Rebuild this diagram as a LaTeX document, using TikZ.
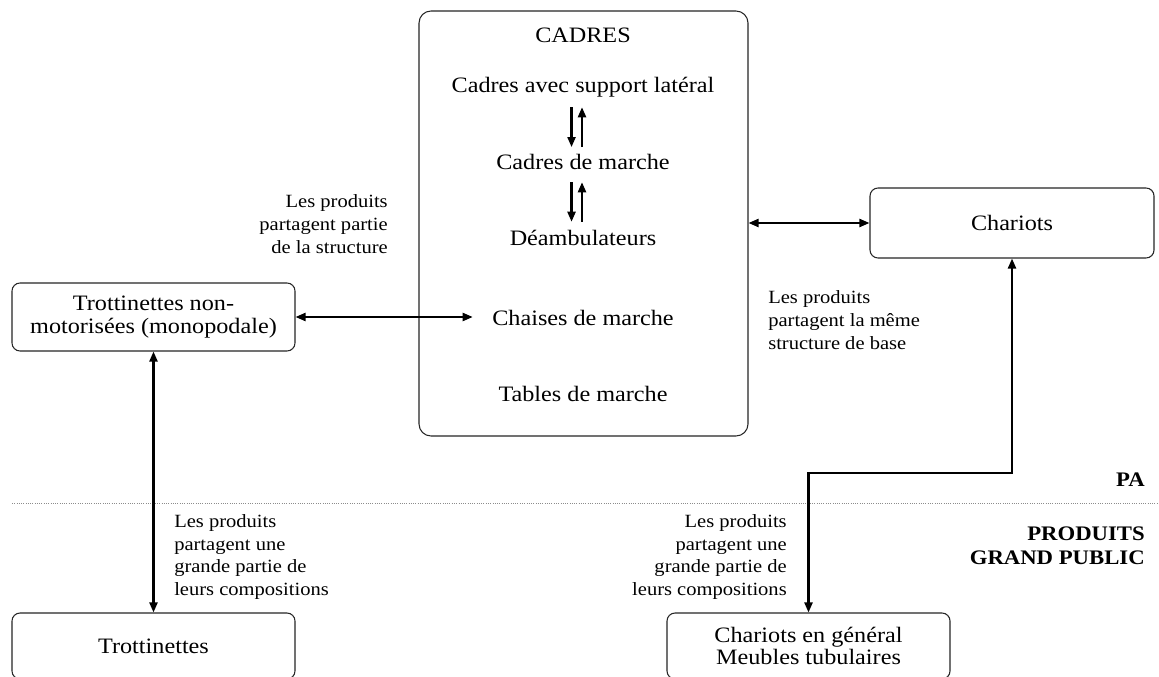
\documentclass[tikz,border=0pt]{standalone}
\usepackage{fontspec}
\setmainfont{Liberation Serif}[FakeStretch=1.1]
\usetikzlibrary{arrows.meta}
\begin{document}
\begin{tikzpicture}[x=0.75pt,y=-0.75pt,
  box/.style={draw=black!85, line width=0.8pt, rounded corners=6pt, inner sep=0pt, align=center,
    font=\fontsize{16.5}{17}\selectfont},
  ttext/.style={font=\fontsize{16.5}{18}\selectfont, inner sep=1pt, text height=11pt, text depth=3.5pt},
  ntext/.style={font=\fontsize{14}{17}\selectfont, inner sep=0pt},
  hdr/.style={font=\fontsize{15.5}{18}\selectfont\bfseries, inner sep=0pt, align=right, anchor=east},
  conn/.style={line width=1.6pt, {Triangle[length=7.5pt,width=6pt]}-{Triangle[length=7.5pt,width=6pt]}},
  one/.style={line width=1.6pt, -{Triangle[length=7.5pt,width=6pt]}}]
\useasboundingbox (0,0) rectangle (1159,677);
\fill[white] (0,0) rectangle (1159,677);

% separator
\coordinate (sepL) at (12,503);
\coordinate (sepR) at (1159,503);
\draw[black!45, densely dotted, line width=0.7pt] (sepL) -- (sepR);

% CADRES box
\node[box, rounded corners=9pt, minimum width=246.75pt, minimum height=318.75pt] (cadres) at (583.5,223.5) {};
\node[ttext] (titre) at (583,38) {CADRES};
\node[ttext] (cas) at (583,88) {Cadres avec support latéral};
\node[ttext] (cdm) at (583,165) {Cadres de marche};
\node[ttext] (deamb) at (583,241) {Déambulateurs};
\node[ttext] (chaises) at (583,320) {Chaises de marche};
\node[ttext] (tables) at (583,396) {Tables de marche};

% other boxes
\node[box, minimum width=213pt, minimum height=52.5pt] (chariots) at (1012,223) {Chariots};
\node[box, minimum width=212.25pt, minimum height=51pt] (trotnm) at (153.5,317) {Trottinettes non-\\motorisées (monopodale)};
\node[box, minimum width=212.25pt, minimum height=49.5pt] (trot) at (153.5,646) {Trottinettes};
\node[box, minimum width=212.25pt, minimum height=49.5pt] (chgen) at (808.5,646) {Chariots en général\\Meubles tubulaires};

% labels
\node[ntext, align=right, anchor=east] (l1) at (388,224) {Les produits\\partagent partie\\de la structure};
\node[ntext, align=left, anchor=west] (l2) at (768,320) {Les produits\\partagent la même\\structure de base};
\node[ntext, align=left, anchor=west] (l3) at (174,557) {Les produits\\partagent une\\grande partie de\\leurs compositions};
\node[ntext, align=right, anchor=east] (l4) at (787,557) {Les produits\\partagent une\\grande partie de\\leurs compositions};
\node[hdr] (pa) at (1145,480) {PA};
\node[hdr] (pgp) at (1145,546) {PRODUITS\\GRAND PUBLIC};

% inner arrows
\draw[one, shorten <=6pt, shorten >=5pt] ([xshift=-8.6pt]cas.south) -- ([xshift=-8.6pt]cdm.north);
\draw[one, shorten <=5pt, shorten >=6pt] ([xshift=-0.75pt]cdm.north) -- ([xshift=-0.75pt]cas.south);
\draw[one, shorten <=4.5pt, shorten >=6pt] ([xshift=-8.6pt]cdm.south) -- ([xshift=-8.6pt]deamb.north);
\draw[one, shorten <=6pt, shorten >=4.5pt] ([xshift=-0.75pt]deamb.north) -- ([xshift=-0.75pt]cdm.south);

% connectors
\draw[conn, shorten >=13.5pt] (trotnm.east) -- (trotnm.east -| chaises.west);
\draw[conn] (cadres.east |- chariots.west) -- (chariots.west);
\draw[conn] (trotnm.south) -- (trot.north);
\coordinate (bend) at (808.5,473);
\draw[conn] (chariots.south) |- (bend) -- (chgen.north);
\end{tikzpicture}
\end{document}
